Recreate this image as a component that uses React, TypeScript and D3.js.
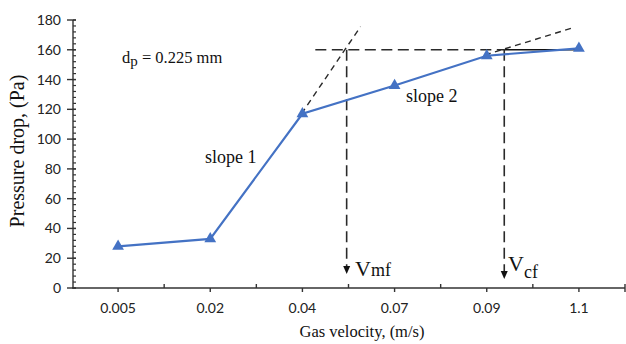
import React from "react";
import * as d3 from "d3";

const categories = ["0.005", "0.02", "0.04", "0.07", "0.09", "1.1"];
const pressure = [28, 33, 117, 136, 156, 161];
const yTicks = [0, 20, 40, 60, 80, 100, 120, 140, 160, 180];
const yMinorTicks = d3.range(0, 181, 4);

// annotation values (category index fractions, pressure values)
const levelValue = 160;
const vmfIndex = 2.48;
const vcfIndex = 4.19;
const levelDashStart = 2.14;
const levelSolidEnd = 5;
const tangent1 = [
  { i: 1.99, v: 117 },
  { i: 2.63, v: 175.5 },
];
const tangent2 = [
  { i: 3.98, v: 156.5 },
  { i: 4.92, v: 174.5 },
];

const W = 626;
const H = 344;
const left = 72;
const right = 625;
const top = 20;
const bottom = 288;

export default function App() {
  const xBand = d3.scaleBand<string>().domain(categories).range([left, right]).padding(0);
  const xi = d3.scaleLinear().domain([-0.5, categories.length - 0.5]).range([left, right]);
  const y = d3.scaleLinear().domain([0, 180]).range([bottom, top]);
  const cx = (c: string) => (xBand(c) as number) + xBand.bandwidth() / 2;

  const line = d3
    .line<number>()
    .x((_, i) => cx(categories[i]))
    .y((d) => y(d));

  const tri = d3.symbol().type(d3.symbolTriangle).size(60)();

  const tline = d3
    .line<{ i: number; v: number }>()
    .x((d) => xi(d.i))
    .y((d) => y(d.v));

  const axisColor = "#333";
  const dashColor = "#2a2a2a";
  const serif = "'Liberation Serif', 'Times New Roman', serif";
  const sans = "Lato, 'Open Sans', sans-serif";

  const boundaries = d3.range(1, categories.length + 1).map((k) => xi(k - 0.5));

  const arrow = (x: number, tipY: number) =>
    `M${x - 3.5},${tipY - 8} L${x + 3.5},${tipY - 8} L${x},${tipY} Z`;

  const vmfX = xi(vmfIndex);
  const vcfX = xi(vcfIndex);
  const levelY = y(levelValue);

  return (
    <svg
      width={W}
      height={H}
      style={{ position: "absolute", left: 0, top: 0, background: "#fff" }}
    >
      <rect width={W} height={H} fill="#fff" />
      {/* Y axis */}
      <line x1={left + 1} x2={left + 1} y1={top} y2={bottom} stroke={axisColor} strokeWidth={1.4} />
      {yMinorTicks.map((t) => (
        <line key={"m" + t} x1={left + 1} x2={left + 4} y1={y(t)} y2={y(t)} stroke={axisColor} strokeWidth={1.2} />
      ))}
      {yTicks.map((t) => (
        <g key={t}>
          <line x1={left - 5} x2={left + 4} y1={y(t)} y2={y(t)} stroke={axisColor} strokeWidth={1.4} />
          <text x={61} y={y(t) + 5} textAnchor="end" fontFamily={sans} fontSize={14} fill="#222">
            {t}
          </text>
        </g>
      ))}
      {/* X axis */}
      <line x1={left} x2={right} y1={bottom} y2={bottom} stroke={axisColor} strokeWidth={1.4} />
      {categories.map((c) => (
        <g key={c}>
          <line x1={cx(c)} x2={cx(c)} y1={bottom} y2={bottom + 4} stroke={axisColor} strokeWidth={1.4} />
          <text x={cx(c)} y={313} textAnchor="middle" fontFamily={sans} fontSize={14} fill="#222">
            {c}
          </text>
        </g>
      ))}
      {boundaries.map((b, k) => (
        <line
          key={"b" + k}
          x1={b}
          x2={b}
          y1={bottom - 4}
          y2={k === boundaries.length - 1 ? bottom + 4 : bottom}
          stroke={axisColor}
          strokeWidth={1.4}
        />
      ))}

      {/* Axis titles */}
      <text x={362} y={337} textAnchor="middle" fontFamily={serif} fontSize={16.5} fill="#111">
        Gas velocity, (m/s)
      </text>
      <text
        transform={`translate(24,151) rotate(-90)`}
        textAnchor="middle"
        fontFamily={serif}
        fontSize={20}
        fill="#111"
      >
        Pressure drop, (Pa)
      </text>

      {/* Annotation dashed lines */}
      <line x1={xi(levelDashStart)} x2={vcfX} y1={levelY} y2={levelY} stroke={dashColor} strokeWidth={1.5} strokeDasharray="11,5.5" />
      <line x1={vcfX} x2={xi(levelSolidEnd)} y1={levelY} y2={levelY} stroke="#111" strokeWidth={1.5} />
      <line x1={vmfX} x2={vmfX} y1={levelY} y2={266} stroke={dashColor} strokeWidth={1.6} strokeDasharray="11,5.5" />
      <line x1={vcfX} x2={vcfX} y1={levelY} y2={271} stroke={dashColor} strokeWidth={1.6} strokeDasharray="11,5.5" />
      <path d={arrow(vmfX, 274)} fill="#111" />
      <path d={arrow(vcfX, 279)} fill="#111" />
      <path d={tline(tangent1) || ""} fill="none" stroke={dashColor} strokeWidth={1.4} strokeDasharray="6,4.5" />
      <path d={tline(tangent2) || ""} fill="none" stroke={dashColor} strokeWidth={1.4} strokeDasharray="6,4.5" />

      {/* Data series */}
      <path d={line(pressure) || ""} fill="none" stroke="#4472C4" strokeWidth={2.2} />
      {pressure.map((v, i) => (
        <path key={i} d={tri || ""} transform={`translate(${cx(categories[i])},${y(v)})`} fill="#4472C4" />
      ))}

      {/* Labels */}
      <text x={122} y={63} fontFamily={serif} fontSize={16.5} fill="#111">
        d<tspan fontSize={15} dy={3}>p</tspan>
        <tspan dy={-3}> = 0.225 mm</tspan>
      </text>
      <text x={205} y={163} fontFamily={serif} fontSize={18} fill="#111">
        slope 1
      </text>
      <text x={406} y={102} fontFamily={serif} fontSize={18} fill="#111">
        slope 2
      </text>
      <text x={355} y={276} fontFamily={serif} fontSize={22} fill="#111">
        V<tspan fontSize={18}>mf</tspan>
      </text>
      <text x={508} y={271} fontFamily={serif} fontSize={22} fill="#111">
        V<tspan fontSize={18} dy={7}>cf</tspan>
      </text>
    </svg>
  );
}
